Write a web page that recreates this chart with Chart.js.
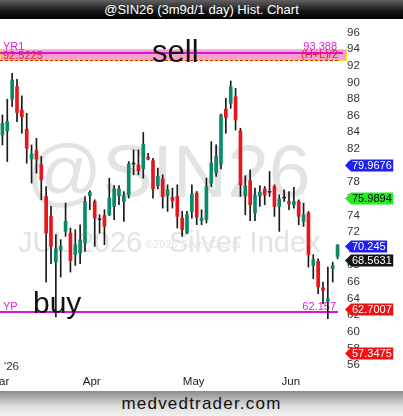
<!DOCTYPE html>
<html>
<head>
<meta charset="utf-8">
<script src="https://cdn.jsdelivr.net/npm/chart.js@4.4.1/dist/chart.umd.min.js"></script>
<style>
  html, body { margin: 0; padding: 0; background: #fff; }
  body { width: 403px; height: 416px; overflow: hidden; font-family: "Liberation Sans", Arial, sans-serif; }
  .title { height: 19px; line-height: 19px; background: linear-gradient(#616161, #141414 60%, #000); color: #fff; text-align: center; font-size: 13px; }
  .chart { position: relative; width: 403px; height: 372px; }
  .footer { height: 25px; line-height: 26px; background: linear-gradient(#8a8a8a, #dcdcdc 60%, #f2f2f2); text-align: center; font-size: 17px; letter-spacing: 1.2px; color: #111; }
</style>
</head>
<body>
<div class="title">@SIN26 (3m9d/1 day) Hist. Chart</div>
<div class="chart"><canvas id="chart" width="403" height="372"></canvas></div>
<div class="footer">medvedtrader.com</div>
<script>
const dates = [
  '2026-03-05', '2026-03-06', '2026-03-09', '2026-03-10', '2026-03-11', '2026-03-12', '2026-03-13',
  '2026-03-16', '2026-03-17', '2026-03-18', '2026-03-19', '2026-03-20',
  '2026-03-23', '2026-03-24', '2026-03-25', '2026-03-26', '2026-03-27', '2026-03-30', '2026-03-31',
  '2026-04-01', '2026-04-02', '2026-04-06', '2026-04-07', '2026-04-08', '2026-04-09', '2026-04-10',
  '2026-04-13', '2026-04-14', '2026-04-15', '2026-04-16', '2026-04-17',
  '2026-04-20', '2026-04-21', '2026-04-22', '2026-04-23', '2026-04-24',
  '2026-04-27', '2026-04-28', '2026-04-29', '2026-04-30',
  '2026-05-01', '2026-05-04', '2026-05-05', '2026-05-06', '2026-05-07', '2026-05-08',
  '2026-05-11', '2026-05-12', '2026-05-13', '2026-05-14', '2026-05-15',
  '2026-05-18', '2026-05-19', '2026-05-20', '2026-05-21', '2026-05-22',
  '2026-05-26', '2026-05-27', '2026-05-28', '2026-05-29',
  '2026-06-01', '2026-06-02', '2026-06-03', '2026-06-04', '2026-06-05',
  '2026-06-08', '2026-06-09', '2026-06-10', '2026-06-11', '2026-06-12'
]

const opens = [83.5, 84.0, 87.8, 89.3, 86.5, 84.2, 80.6, 81.6, 79.9, 76.1,
  73.7, 68.2, 69.7, 71.9, 71.7, 69.1, 69.3, 70.5, 76.2, 75.5,
  73.3, 73.8, 73.9, 74.9, 76.2, 75.5, 76.3, 80.0, 79.9, 79.4,
  80.8, 80.4, 77.4, 78.2, 76.2, 76.0, 76.1, 73.5, 71.7, 74.3,
  76.5, 73.2, 73.3, 77.7, 78.9, 80.0, 86.6, 87.3, 88.1, 84.0,
  76.2, 78.0, 74.1, 76.2, 77.0, 76.6, 77.3, 74.9, 75.9, 75.5,
  75.1, 75.5, 73.1, 74.1, 67.8, 68.3, 65.1, 63.5, 67.4, 68.9]

const highs = [85.9, 87.8, 90.9, 90.2, 88.2, 86.1, 82.3, 83.1, 80.9, 77.3,
  74.9, 71.5, 70.9, 75.3, 72.3, 72.1, 72.7, 76.1, 76.8, 75.7,
  73.9, 74.5, 78.3, 77.4, 77.4, 76.7, 80.3, 81.7, 81.7, 83.8,
  81.3, 80.7, 79.5, 78.7, 77.5, 77.1, 77.5, 74.3, 74.3, 77.5,
  76.7, 74.5, 78.3, 82.7, 82.3, 86.0, 87.9, 90.0, 89.1, 84.3,
  78.6, 79.3, 77.1, 77.4, 77.3, 79.1, 77.5, 76.3, 76.9, 76.7,
  77.2, 75.7, 75.3, 74.3, 69.1, 68.6, 65.8, 67.6, 68.2, 70.3]

const lows = [82.3, 80.3, 86.9, 85.1, 83.7, 80.1, 77.7, 78.9, 75.7, 65.8,
  68.0, 61.6, 66.4, 71.3, 67.0, 67.8, 68.0, 69.5, 74.5, 70.1,
  71.7, 70.3, 73.8, 73.3, 75.1, 73.1, 75.9, 78.7, 78.7, 78.3,
  80.5, 75.9, 77.0, 74.7, 74.3, 74.7, 72.3, 71.3, 71.6, 73.5,
  72.7, 72.7, 72.9, 77.3, 78.5, 79.4, 83.7, 86.7, 84.1, 76.1,
  73.9, 73.2, 73.2, 74.9, 75.1, 76.1, 73.7, 71.9, 75.5, 74.5,
  74.7, 72.7, 72.5, 67.6, 66.2, 64.4, 63.2, 61.4, 65.8, 68.6]

const closes = [84.9, 85.1, 90.1, 86.2, 85.7, 81.9, 81.2, 80.6, 78.1, 71.7,
  70.1, 69.8, 70.1, 73.1, 68.4, 70.3, 70.9, 75.5, 76.6, 73.5,
  73.3, 72.5, 75.9, 77.0, 77.0, 76.2, 80.0, 80.0, 79.2, 82.4,
  80.6, 77.0, 78.5, 76.1, 76.9, 75.6, 73.7, 72.1, 73.9, 76.4,
  73.6, 73.5, 77.3, 80.1, 80.9, 85.9, 85.6, 89.3, 85.3, 77.5,
  77.4, 75.1, 76.2, 76.6, 76.3, 76.6, 74.9, 75.8, 75.9, 75.2,
  75.5, 73.7, 73.9, 69.1, 68.5, 65.2, 64.8, 63.8, 67.8, 70.245]

const yTicks = [96, 94, 92, 90, 88, 86, 84, 82, 80, 78, 76, 74, 72, 70, 68, 66, 64, 62, 60, 58, 56]
const monthNames = ['Jan', 'Feb', 'Mar', 'Apr', 'May', 'Jun', 'Jul', 'Aug', 'Sep', 'Oct', 'Nov', 'Dec']

// reference levels
const yr1Level = 92.5225
const midLevel = 93.388
const bandTop = 93.8
const ypLevel = 62.157

// price tags on the right axis
const tagValues = [79.9676, 75.9894, 70.245, 68.5631, 62.7007, 57.3475]
const tagFill = ['#2020f2', '#22ee22', '#2020f2', '#121212', '#ee1212', '#ee1212']
const tagInk = ['#fff', '#000', '#fff', '#fff', '#fff', '#fff']

const FONT = '"Liberation Sans", Arial, sans-serif'
const UP = '#0b8a69'
const DOWN = '#e8161c'

const bodyColors = closes.map((c, i) => c > opens[i] ? UP : (c < opens[i] ? DOWN : '#222'))

const overlay = {
  id: 'overlay',
  beforeDatasetsDraw(chart) {
    const { ctx, scales: { y } } = chart
    ctx.save()

    // watermark
    ctx.fillStyle = '#e3e3e3'
    ctx.font = '75px ' + FONT
    ctx.fillText('@SIN26', 26, 178)
    ctx.font = '29px ' + FONT
    ctx.fillText('JUL 2026', 18, 233)
    ctx.fillText('Silver Index', 169, 233)
    ctx.fillStyle = '#e6e6e6'
    ctx.font = '11px ' + FONT
    ctx.fillText('\u00a92026 SilverCharts', 145, 229)

    // YR1 zone
    const bt = y.getPixelForValue(bandTop)
    const bb = y.getPixelForValue(yr1Level)
    ctx.fillStyle = '#f6a3cc'
    ctx.fillRect(0, bt, 347, bb - bt)
    ctx.strokeStyle = '#f3e23a'
    ctx.lineWidth = 1
    ctx.strokeRect(0.5, Math.round(bt) + 0.5, 346, Math.round(bb - bt))

    const my = Math.round(y.getPixelForValue(midLevel))
    ctx.strokeStyle = '#e010e0'
    ctx.lineWidth = 2
    ctx.beginPath(); ctx.moveTo(0, my); ctx.lineTo(343, my); ctx.stroke()

    const ry = Math.round(bb) + 0.5
    ctx.strokeStyle = '#e02020'
    ctx.lineWidth = 1
    ctx.setLineDash([3, 2])
    ctx.beginPath(); ctx.moveTo(0, ry); ctx.lineTo(338, ry); ctx.stroke()
    ctx.setLineDash([])

    ctx.font = '11px ' + FONT
    ctx.textBaseline = 'alphabetic'
    ctx.fillStyle = '#e020e0'
    ctx.fillText('YR1', 3, my - 3)
    ctx.textAlign = 'right'
    ctx.fillText(String(midLevel), 337, my - 3)
    ctx.fillStyle = '#e4203a'
    ctx.fillText('(H+L)/2', 338, ry - 2.5)
    ctx.textAlign = 'left'
    ctx.fillText(String(yr1Level), 3, ry - 2)

    // YP line
    const py = Math.round(y.getPixelForValue(ypLevel))
    ctx.strokeStyle = '#e010e0'
    ctx.lineWidth = 2
    ctx.beginPath(); ctx.moveTo(0, py); ctx.lineTo(338, py); ctx.stroke()
    ctx.fillStyle = '#e020e0'
    ctx.fillText('YP', 3, py - 2)
    ctx.textAlign = 'right'
    ctx.fillText(String(ypLevel), 336, py - 2)
    ctx.textAlign = 'left'

    // annotations
    ctx.fillStyle = '#111'
    ctx.font = '31px ' + FONT
    ctx.fillText('sell', 152, 43)
    ctx.font = '30px ' + FONT
    ctx.fillText('buy', 33, 294)

    ctx.fillStyle = '#333'
    ctx.font = '11.5px ' + FONT
    ctx.fillText("'26", 4, 351)
    ctx.restore()
  },
  afterDraw(chart) {
    const { ctx, scales: { y } } = chart
    ctx.save()
    ctx.font = '11px ' + FONT
    ctx.textBaseline = 'middle'
    tagValues.forEach((v, i) => {
      const ty = Math.round(y.getPixelForValue(v)) + 1.5
      const label = String(v)
      const x0 = 345
      const x1 = 352 + ctx.measureText(label).width + 1.5
      ctx.beginPath()
      ctx.moveTo(x0, ty)
      ctx.lineTo(x0 + 6, ty - 6)
      ctx.lineTo(x1, ty - 6)
      ctx.lineTo(x1, ty + 6)
      ctx.lineTo(x0 + 6, ty + 6)
      ctx.closePath()
      ctx.fillStyle = tagFill[i]
      ctx.fill()
      ctx.fillStyle = tagInk[i]
      ctx.fillText(label, 352, ty + 0.5)
    })
    ctx.restore()
  }
}

new Chart(document.getElementById('chart'), {
  type: 'bar',
  data: {
    labels: dates,
    datasets: [
      {
        label: 'body',
        data: opens.map((o, i) => [o, closes[i]]),
        backgroundColor: bodyColors,
        barThickness: 3,
        minBarLength: 1,
        grouped: false,
        order: 0
      },
      {
        label: 'wick',
        data: lows.map((l, i) => [l, highs[i]]),
        backgroundColor: '#1a1a1a',
        barThickness: 1,
        grouped: false,
        order: 1
      }
    ]
  },
  options: {
    responsive: false,
    animation: false,
    layout: { padding: { top: 2, left: 0, right: 0, bottom: 0 } },
    plugins: {
      legend: { display: false },
      tooltip: { enabled: false }
    },
    scales: {
      x: {
        grid: { display: false, drawTicks: false },
        border: { display: false },
        ticks: {
          autoSkip: false,
          maxRotation: 0,
          labelOffset: -3,
          padding: 3,
          color: '#222',
          font: { family: FONT, size: 11.5 },
          callback: function(value, i) {
            const m = +dates[i].slice(5, 7)
            if (i === 0 || m !== +dates[i - 1].slice(5, 7)) return monthNames[m - 1]
            return ''
          }
        },
        afterFit(scale) {
          scale.height = 19
          scale.paddingLeft = 0
          scale.paddingRight = 0
        }
      },
      y: {
        position: 'right',
        min: 54.98,
        max: 97.21,
        grid: { display: false, drawTicks: false },
        border: { display: false },
        afterBuildTicks(scale) {
          scale.ticks = yTicks.map(v => ({ value: v }))
        },
        ticks: {
          padding: 7,
          labelOffset: 1.5,
          color: '#333',
          font: { family: FONT, size: 11.5 }
        },
        afterFit(scale) {
          scale.width = 63
          scale.paddingTop = 0
          scale.paddingBottom = 0
        }
      }
    }
  },
  plugins: [overlay]
})
</script>
</body>
</html>
